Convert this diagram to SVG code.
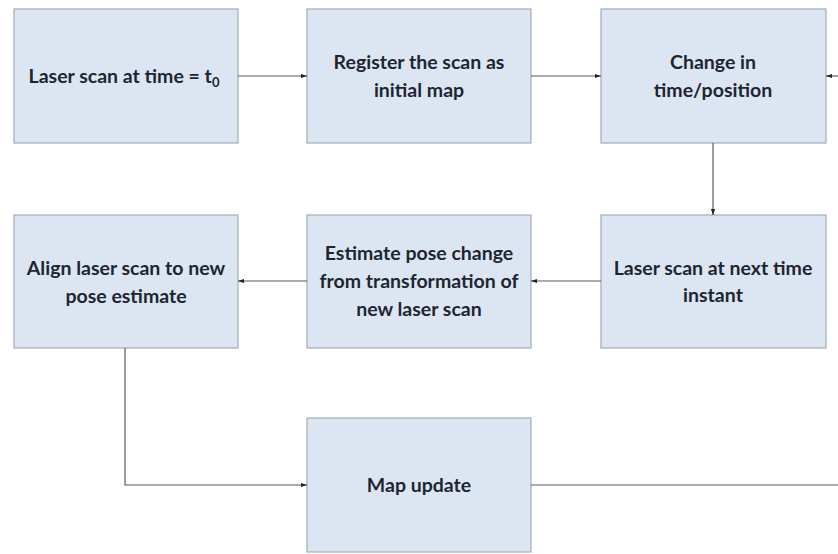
<svg xmlns="http://www.w3.org/2000/svg" width="838" height="554" viewBox="0 0 838 554">
<style>
.box{fill:#dce6f3;stroke:#a3abb6;stroke-width:1.2}
.t{font-family:Lato,"Liberation Sans",sans-serif;font-weight:bold;font-size:19.5px;fill:#1e2530;text-anchor:middle}
.c{fill:none;stroke:#5a5a5a;stroke-width:1.2}
</style>
<defs>
<marker id="ah" viewBox="0 0 10 10" refX="10" refY="5" markerWidth="6" markerHeight="6" markerUnits="userSpaceOnUse" orient="auto">
<path d="M0,1.5 L10,5 L0,8.5 z" fill="#222"/>
</marker>
</defs>
<rect width="838" height="554" fill="#fff"/>
<g id="n1"><rect class="box" x="14" y="9" width="224" height="134"/><text class="t" x="124" y="83">Laser scan at time = t<tspan font-size="13" dy="4">0</tspan></text></g>
<g id="n2"><rect class="box" x="307" y="9" width="224" height="134"/><text class="t" x="419" y="69">Register the scan as</text><text class="t" x="419" y="97">initial map</text></g>
<g id="n3"><rect class="box" x="601" y="9" width="225" height="134"/><text class="t" x="713" y="69">Change in</text><text class="t" x="713" y="97">time/position</text></g>
<g id="n4"><rect class="box" x="14" y="215" width="224" height="133"/><text class="t" x="126" y="275">Align laser scan to new</text><text class="t" x="126" y="303">pose estimate</text></g>
<g id="n5"><rect class="box" x="307" y="215" width="224" height="133"/><text class="t" x="419" y="260">Estimate pose change</text><text class="t" x="419" y="288">from transformation of</text><text class="t" x="419" y="316">new laser scan</text></g>
<g id="n6"><rect class="box" x="601" y="215" width="225" height="133"/><text class="t" x="713" y="275">Laser scan at next time</text><text class="t" x="713" y="302">instant</text></g>
<g id="n7"><rect class="box" x="307" y="418" width="224" height="134"/><text class="t" x="419" y="492">Map update</text></g>
<g id="connectors">
<path class="c" d="M238,76 L307,76" marker-end="url(#ah)"/>
<path class="c" d="M531,76 L601,76" marker-end="url(#ah)"/>
<path class="c" d="M713,143 L713,215" marker-end="url(#ah)"/>
<path class="c" d="M601,281 L531,281" marker-end="url(#ah)"/>
<path class="c" d="M307,281 L238,281" marker-end="url(#ah)"/>
<path class="c" d="M125,348 L125,485 L307,485" marker-end="url(#ah)"/>
<path class="c" d="M531,485 L838,485"/>
<path class="c" d="M838,76 L826,76" marker-end="url(#ah)"/>
</g>
</svg>
